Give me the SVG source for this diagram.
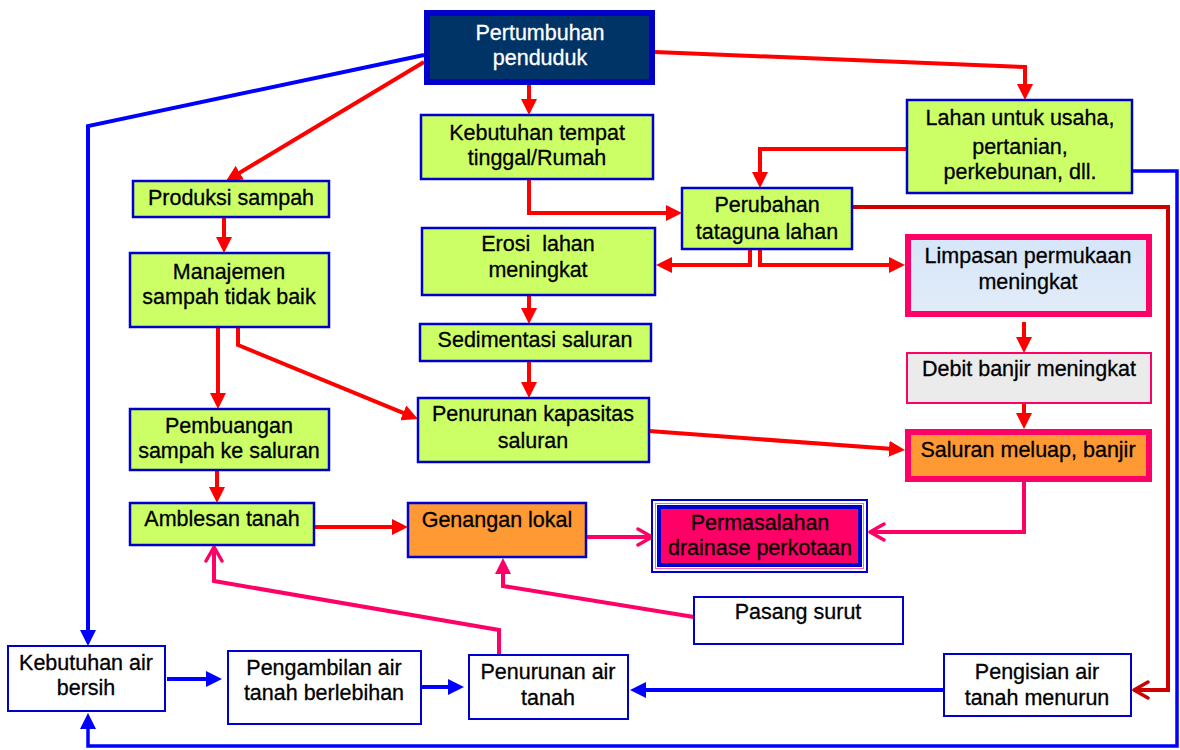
<svg xmlns="http://www.w3.org/2000/svg" width="1180" height="750" viewBox="0 0 1180 750">
<defs>
<style>
text{font-family:"Liberation Sans",Arial,sans-serif;font-size:21.5px;fill:#000;stroke:#000;stroke-width:0.3;text-anchor:middle;dominant-baseline:central}
text.wt{fill:#fff;stroke:#fff}
.g{fill:#ccff66;stroke:#0000cc;stroke-width:2.5}
.w{fill:#fff;stroke:#0000cc;stroke-width:2}
.r{fill:none;stroke:#ff0000;stroke-width:4}
.b{fill:none;stroke:#0000ff;stroke-width:4}
.p{fill:none;stroke:#ff0066;stroke-width:4}
.d{fill:none;stroke:#cc0000;stroke-width:4}
</style>
<linearGradient id="lb" x1="0" y1="0" x2="0" y2="1"><stop offset="0" stop-color="#d6e6f8"/><stop offset="1" stop-color="#e2ecf8"/></linearGradient>
<marker id="ar" markerUnits="userSpaceOnUse" markerWidth="16" markerHeight="16" viewBox="0 0 16 16" refX="11" refY="8" orient="auto"><path d="M0,0 L16,8 L0,16 z" fill="#ff0000"/></marker>
<marker id="ab" markerUnits="userSpaceOnUse" markerWidth="16" markerHeight="16" viewBox="0 0 16 16" refX="11" refY="8" orient="auto"><path d="M0,0 L16,8 L0,16 z" fill="#0000ff"/></marker>
<marker id="ap" markerUnits="userSpaceOnUse" markerWidth="16" markerHeight="16" viewBox="0 0 16 16" refX="11" refY="8" orient="auto"><path d="M0,0 L16,8 L0,16 z" fill="#ff0066"/></marker>
<marker id="op" markerUnits="userSpaceOnUse" markerWidth="20" markerHeight="20" viewBox="0 0 20 20" refX="18" refY="10" orient="auto"><path d="M4,2 L18,10 L4,18" fill="none" stroke="#ff0066" stroke-width="3.5" stroke-linecap="round" stroke-linejoin="round"/></marker>
<marker id="od" markerUnits="userSpaceOnUse" markerWidth="20" markerHeight="20" viewBox="0 0 20 20" refX="18" refY="10" orient="auto"><path d="M4,2 L18,10 L4,18" fill="none" stroke="#cc0000" stroke-width="3.5" stroke-linecap="round" stroke-linejoin="round"/></marker>
</defs>
<rect width="1180" height="750" fill="#fff"/>

<g id="connectors">
<polyline class="b" points="424,55 88,126 88,641" marker-end="url(#ab)"/>
<polyline class="b" points="1132,171 1177,171 1177,746 88,746 88,718" marker-end="url(#ab)" style="stroke-width:3.5"/>
<polyline class="r" points="424,62 230.3,178.4" marker-end="url(#ar)"/>
<polyline class="r" points="529,85 529,110" marker-end="url(#ar)"/>
<polyline class="r" points="655,52 1025,67 1025,95" marker-end="url(#ar)"/>
<polyline class="r" points="529,179 529,213 677,213" marker-end="url(#ar)"/>
<polyline class="r" points="907,149 760,149 760,183" marker-end="url(#ar)"/>
<polyline class="r" points="750,249 750,265 661,265" marker-end="url(#ar)"/>
<polyline class="r" points="760,249 760,265 900,265" marker-end="url(#ar)"/>
<polyline class="r" points="224,217 224,248" marker-end="url(#ar)"/>
<polyline class="r" points="218,327 218,404" marker-end="url(#ar)"/>
<polyline class="r" points="238,327 238,345 413.4,417.1" marker-end="url(#ar)"/>
<polyline class="r" points="217,470 217,498" marker-end="url(#ar)"/>
<polyline class="r" points="314,527 403,527" marker-end="url(#ar)"/>
<polyline class="r" points="529,295 529,319" marker-end="url(#ar)"/>
<polyline class="r" points="529,361 529,393" marker-end="url(#ar)"/>
<polyline class="r" points="649,431 900,449.6" marker-end="url(#ar)"/>
<polyline class="r" points="1024,322 1024,348" marker-end="url(#ar)"/>
<polyline class="r" points="1024,403 1024,424" marker-end="url(#ar)"/>
<polyline class="d" points="852,207 1168,207 1168,690 1134,690" marker-end="url(#od)"/>
<polyline class="p" points="586,537 652,537" marker-end="url(#op)"/>
<polyline class="p" points="1024,482 1024,532 870,532" marker-end="url(#op)"/>
<polyline class="p" points="499,655 499,630 214,581 214,547" marker-end="url(#op)"/>
<polyline class="p" points="694,617 503,586 503,563" marker-end="url(#ap)"/>
<polyline class="b" points="944,690 635,690" marker-end="url(#ab)"/>
<polyline class="b" points="167,679 217,679" marker-end="url(#ab)"/>
<polyline class="b" points="422,687 459,687" marker-end="url(#ab)"/>
</g>

<g id="pertumbuhan">
<rect x="427" y="13" width="225" height="69" fill="#003366" stroke="#0000cc" stroke-width="6"/>
<text class="wt" x="540" y="33">Pertumbuhan</text>
<text class="wt" x="540" y="58">penduduk</text>
</g>
<g id="kebutuhan-tempat">
<rect class="g" x="421" y="115" width="232" height="64"/>
<text x="537" y="133">Kebutuhan tempat</text>
<text x="537" y="158">tinggal/Rumah</text>
</g>
<g id="lahan-usaha">
<rect class="g" x="907" y="100" width="225" height="93"/>
<text x="1020" y="118">Lahan untuk usaha,</text>
<text x="1020" y="147">pertanian,</text>
<text x="1020" y="172">perkebunan, dll.</text>
</g>
<g id="produksi">
<rect class="g" x="133" y="181" width="196" height="36"/>
<text x="231" y="198">Produksi sampah</text>
</g>
<g id="manajemen">
<rect class="g" x="130" y="253" width="199" height="74"/>
<text x="229" y="272">Manajemen</text>
<text x="229" y="297">sampah tidak baik</text>
</g>
<g id="pembuangan">
<rect class="g" x="130" y="409" width="199" height="61"/>
<text x="229" y="426">Pembuangan</text>
<text x="229" y="451">sampah ke saluran</text>
</g>
<g id="amblesan">
<rect class="g" x="130" y="503" width="184" height="42"/>
<text x="222" y="519">Amblesan tanah</text>
</g>
<g id="perubahan">
<rect class="g" x="682" y="188" width="170" height="61"/>
<text x="767" y="205">Perubahan</text>
<text x="767" y="232">tataguna lahan</text>
</g>
<g id="erosi">
<rect class="g" x="422" y="228" width="233" height="67"/>
<text x="538" y="244" style="white-space:pre">Erosi  lahan</text>
<text x="538" y="270">meningkat</text>
</g>
<g id="sedimentasi">
<rect class="g" x="420" y="324" width="231" height="37"/>
<text x="535" y="340">Sedimentasi saluran</text>
</g>
<g id="penurunan-kapasitas">
<rect class="g" x="418" y="398" width="231" height="64"/>
<text x="533" y="414">Penurunan kapasitas</text>
<text x="533" y="441">saluran</text>
</g>
<g id="genangan">
<rect x="408" y="503" width="178" height="54" fill="#ff9933" stroke="#0000cc" stroke-width="2.5"/>
<text x="497" y="520">Genangan lokal</text>
</g>
<g id="permasalahan">
<rect x="652" y="500" width="215" height="72" fill="#fff" stroke="#0000cc" stroke-width="2"/>
<rect x="655.5" y="503.5" width="208" height="65" fill="none" stroke="#ff66aa" stroke-width="1"/>
<rect x="659" y="507" width="201" height="58" fill="#ff0066" stroke="#0000cc" stroke-width="4"/>
<text x="760" y="523">Permasalahan</text>
<text x="760" y="548">drainase perkotaan</text>
</g>
<g id="limpasan">
<rect x="908" y="237" width="241" height="77" fill="url(#lb)" stroke="#ff0066" stroke-width="6"/>
<text x="1028" y="256">Limpasan permukaan</text>
<text x="1028" y="282">meningkat</text>
</g>
<g id="debit">
<rect x="907" y="353" width="244" height="50" fill="#ebebeb" stroke="#ff0066" stroke-width="2"/>
<text x="1029" y="369">Debit banjir meningkat</text>
</g>
<g id="saluran-meluap">
<rect x="908" y="432" width="241" height="47" fill="#ff9933" stroke="#ff0066" stroke-width="6"/>
<text x="1028" y="450">Saluran meluap, banjir</text>
</g>
<g id="pasang-surut">
<rect class="w" x="694" y="597" width="209" height="47"/>
<text x="798" y="612">Pasang surut</text>
</g>
<g id="kebutuhan-air">
<rect class="w" x="8" y="646" width="157" height="65"/>
<text x="86" y="663">Kebutuhan air</text>
<text x="86" y="688">bersih</text>
</g>
<g id="pengambilan">
<rect class="w" x="228" y="651" width="193" height="73"/>
<text x="324" y="668">Pengambilan air</text>
<text x="324" y="693">tanah berlebihan</text>
</g>
<g id="penurunan-air">
<rect class="w" x="469" y="655" width="159" height="64"/>
<text x="548" y="672">Penurunan air</text>
<text x="548" y="698">tanah</text>
</g>
<g id="pengisian">
<rect class="w" x="944" y="654" width="187" height="62"/>
<text x="1037" y="672">Pengisian air</text>
<text x="1037" y="698">tanah menurun</text>
</g>
</svg>
